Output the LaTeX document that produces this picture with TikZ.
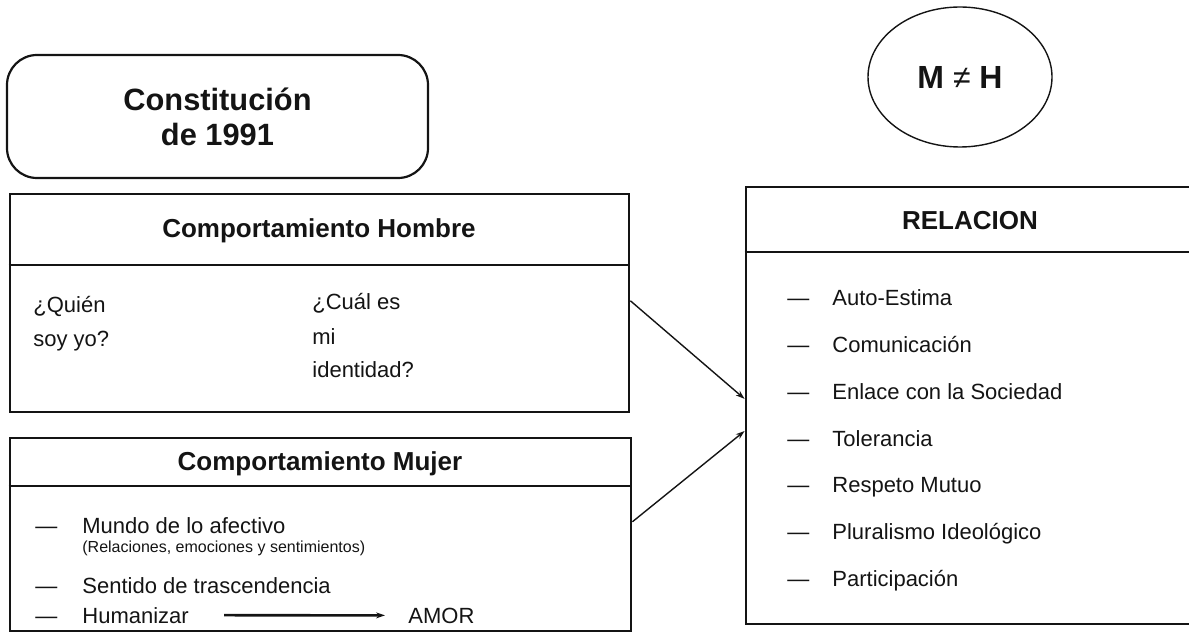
\documentclass[tikz,border=0pt]{standalone}
\usepackage{fontspec}
\setmainfont{Liberation Sans}
\usetikzlibrary{shapes.geometric,arrows.meta,calc}
\definecolor{inkblack}{RGB}{20,20,20}

\begin{document}
\begin{tikzpicture}[
        x=0.5pt, y=-0.5pt,
        roundbox/.style={rectangle, rounded corners=15pt, draw=inkblack, line width=1.1pt, minimum width=210.5pt, minimum height=61.5pt, text=inkblack},
        oval/.style={ellipse, draw=inkblack, line width=0.7pt, minimum width=92pt, minimum height=70pt, text=inkblack},
        panel/.style={rectangle, draw=inkblack, line width=1.4pt},
        heading/.style={font=\fontsize{13}{15}\selectfont\bfseries, text=inkblack, inner sep=0pt},
        item/.style={anchor=base west, font=\fontsize{11}{13}\selectfont, text=inkblack, inner sep=0pt},
        note/.style={anchor=base west, font=\fontsize{8}{10}\selectfont, text=inkblack, inner sep=0pt},
        rule/.style={draw=inkblack, line width=1.2pt},
        flow/.style={-{Stealth[length=4.5pt, width=3pt]}, draw=inkblack, line width=0.7pt}
    ]
    \useasboundingbox (0,0) rectangle (1189,636);

    % Title and circle
    \node[roundbox, align=center, font=\fontsize{15.4}{17.5}\selectfont\bfseries] (constitucion) at (217.5,116.5) {Constitución\\ de 1991};
    \node[oval, font=\fontsize{16}{18}\selectfont\bfseries] (mh) at (960,77) {M {\mdseries ≠} H};

    % Comportamiento Hombre
    \node[panel, minimum width=309.5pt, minimum height=109pt] (hombre) at (319.5,303) {};
    \draw[rule] (hombre.west |- 0,265) -- (hombre.east |- 0,265);
    \node[heading] (hombre_title) at (319,231) {Comportamiento Hombre};
    \node[item] (quien) at (33,313) {¿Quién};
    \node[item] (soyyo) at (33,346) {soy yo?};
    \node[item] (cual) at (312,310) {¿Cuál es};
    \node[item] (mi) at (312,344) {mi};
    \node[item] (identidad) at (312,378) {identidad?};

    % Comportamiento Mujer
    \node[panel, minimum width=310.5pt, minimum height=96.5pt] (mujer) at (320.5,534.5) {};
    \draw[rule] (mujer.west |- 0,486) -- (mujer.east |- 0,486);
    \node[heading] (mujer_title) at (320,464) {Comportamiento Mujer};
    \node[item] (mundo_dash) at (35,533) {—};
    \node[item] (mundo) at (82,533) {Mundo de lo afectivo};
    \node[note] (relaciones) at (82,552) {(Relaciones, emociones y sentimientos)};
    \node[item] (sentido_dash) at (35,593) {—};
    \node[item] (sentido) at (82,593) {Sentido de trascendencia};
    \node[item] (humanizar_dash) at (35,623) {—};
    \node[item] (humanizar) at (82,623) {Humanizar};
    \node[item] (amor) at (408,623) {AMOR};

    % Relacion
    \node[panel, minimum width=222.5pt, minimum height=218.5pt] (relacion) at (968.5,405.5) {};
    \draw[rule] (relacion.west |- 0,252) -- (relacion.east |- 0,252);
    \node[heading] (relacion_title) at (970,221) {RELACION};
    \node[item] (auto_dash) at (787,306) {—};
    \node[item] (auto) at (832,306) {Auto-Estima};
    \node[item] (comunicacion_dash) at (787,352.7) {—};
    \node[item] (comunicacion) at (832,352.7) {Comunicación};
    \node[item] (enlace_dash) at (787,399.3) {—};
    \node[item] (enlace) at (832,399.3) {Enlace con la Sociedad};
    \node[item] (tolerancia_dash) at (787,446) {—};
    \node[item] (tolerancia) at (832,446) {Tolerancia};
    \node[item] (respeto_dash) at (787,492.7) {—};
    \node[item] (respeto) at (832,492.7) {Respeto Mutuo};
    \node[item] (pluralismo_dash) at (787,539.3) {—};
    \node[item] (pluralismo) at (832,539.3) {Pluralismo Ideológico};
    \node[item] (participacion_dash) at (787,586) {—};
    \node[item] (participacion) at (832,586) {Participación};

    % Flows into the relation
    \draw[flow] ($(hombre.north east)!0.49!(hombre.south east)$) -- ($(relacion.north west)!0.485!(relacion.south west)$);
    \draw[flow] ($(mujer.north east)!0.435!(mujer.south east)$) -- ($(relacion.north west)!0.558!(relacion.south west)$);
    \draw[flow, line width=1.3pt, shorten <=17.5pt, shorten >=11.5pt] (humanizar.east) -- (amor.west);

\end{tikzpicture}
\end{document}
